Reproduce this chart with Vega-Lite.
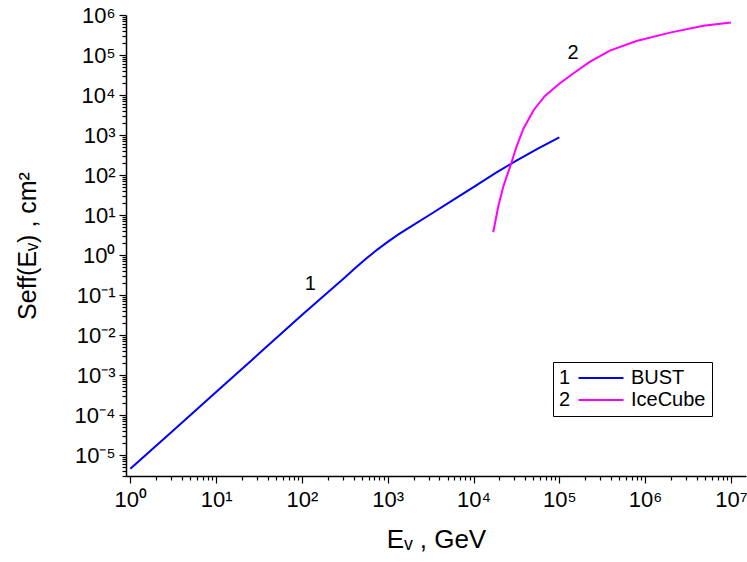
{
  "$schema": "https://vega.github.io/schema/vega-lite/v6.json",
  "width": 620,
  "height": 461,
  "autosize": "none",
  "padding": {"left": 126, "top": 15, "right": 1, "bottom": 86},
  "background": "white",
  "config": {
    "font": "Liberation Sans",
    "view": {"stroke": null}
  },
  "datasets": {
    "curves": [
      {"series": "BUST", "E": 1, "S": 4.54e-6},
      {"series": "BUST", "E": 3.162, "S": 4.14e-5},
      {"series": "BUST", "E": 10, "S": 3.78e-4},
      {"series": "BUST", "E": 31.62, "S": 3.44e-3},
      {"series": "BUST", "E": 100, "S": 0.0316},
      {"series": "BUST", "E": 316.2, "S": 0.275},
      {"series": "BUST", "E": 421.7, "S": 0.479},
      {"series": "BUST", "E": 562.3, "S": 0.815},
      {"series": "BUST", "E": 749.9, "S": 1.349},
      {"series": "BUST", "E": 1000, "S": 2.14},
      {"series": "BUST", "E": 1333.5, "S": 3.27},
      {"series": "BUST", "E": 1778, "S": 4.85},
      {"series": "BUST", "E": 3162, "S": 10.47},
      {"series": "BUST", "E": 5623, "S": 22.9},
      {"series": "BUST", "E": 10000, "S": 50.1},
      {"series": "BUST", "E": 17783, "S": 109.6},
      {"series": "BUST", "E": 31623, "S": 229},
      {"series": "BUST", "E": 56234, "S": 457},
      {"series": "BUST", "E": 100000, "S": 871},
      {"series": "IceCube", "E": 16982, "S": 3.72},
      {"series": "IceCube", "E": 19498, "S": 17.0},
      {"series": "IceCube", "E": 22387, "S": 53.7},
      {"series": "IceCube", "E": 26915, "S": 169.8},
      {"series": "IceCube", "E": 31623, "S": 501},
      {"series": "IceCube", "E": 38019, "S": 1413},
      {"series": "IceCube", "E": 50119, "S": 4169},
      {"series": "IceCube", "E": 67608, "S": 9333},
      {"series": "IceCube", "E": 100000, "S": 19055},
      {"series": "IceCube", "E": 141254, "S": 33113},
      {"series": "IceCube", "E": 223872, "S": 66069},
      {"series": "IceCube", "E": 389045, "S": 128825},
      {"series": "IceCube", "E": 794328, "S": 223872},
      {"series": "IceCube", "E": 1949845, "S": 363078},
      {"series": "IceCube", "E": 4786301, "S": 537032},
      {"series": "IceCube", "E": 10000000, "S": 645654}
    ],
    "labels": [
      {"label": "1", "E": 125, "S": 0.19},
      {"label": "2", "E": 145000, "S": 110000}
    ]
  },
  "layer": [
    {
      "data": {"name": "curves"},
      "mark": {"type": "line", "strokeWidth": 2, "clip": true},
      "encoding": {
        "x": {
          "field": "E", "type": "quantitative",
          "scale": {"type": "log", "domain": [0.89, 15000000], "nice": false},
          "axis": {
            "gridOpacity": 0,
            "domainColor": "black",
            "domainWidth": 1.5,
            "labelColor": "black",
            "titleColor": "black",
            "titleFontWeight": "normal",
            "labelOverlap": false,
            "ticks": true,
            "tickColor": "black",
            "tickWidth": 1.2,
            "values": [1,2,3,4,5,6,7,8,9,10,20,30,40,50,60,70,80,90,100,200,300,400,500,600,700,800,900,1000,2000,3000,4000,5000,6000,7000,8000,9000,10000,20000,30000,40000,50000,60000,70000,80000,90000,100000,200000,300000,400000,500000,600000,700000,800000,900000,1000000,2000000,3000000,4000000,5000000,6000000,7000000,8000000,9000000,10000000],
            "tickSize": {"condition": {"test": "abs(log(datum.value)/LN10 - round(log(datum.value)/LN10)) < 0.001", "value": 7}, "value": 4},
            "labelFontSize": 22,
            "labelPadding": 6,
            "labelExpr": "abs(log(datum.value)/LN10 - round(log(datum.value)/LN10)) < 0.001 ? '10' + ['⁻⁵','⁻⁴','⁻³','⁻²','⁻¹','⁰','¹','²','³','⁴','⁵','⁶','⁷'][round(log(datum.value)/LN10)+5] : ''",
            "title": "Eᵥ , GeV",
            "titleFontSize": 26,
            "titlePadding": 16
          }
        },
        "y": {
          "field": "S", "type": "quantitative",
          "scale": {"type": "log", "domain": [3e-6, 1000000], "nice": false},
          "axis": {
            "gridOpacity": 0,
            "domainColor": "black",
            "domainWidth": 1.5,
            "labelColor": "black",
            "titleColor": "black",
            "titleFontWeight": "normal",
            "labelOverlap": false,
            "ticks": true,
            "tickColor": "black",
            "tickWidth": 1.2,
            "values": [3e-6,4e-6,5e-6,6e-6,7e-6,8e-6,9e-6,1e-5,2e-5,3e-5,4e-5,5e-5,6e-5,7e-5,8e-5,9e-5,1e-4,2e-4,3e-4,4e-4,5e-4,6e-4,7e-4,8e-4,9e-4,0.001,0.002,0.003,0.004,0.005,0.006,0.007,0.008,0.009,0.01,0.02,0.03,0.04,0.05,0.06,0.07,0.08,0.09,0.1,0.2,0.3,0.4,0.5,0.6,0.7,0.8,0.9,1,2,3,4,5,6,7,8,9,10,20,30,40,50,60,70,80,90,100,200,300,400,500,600,700,800,900,1000,2000,3000,4000,5000,6000,7000,8000,9000,10000,20000,30000,40000,50000,60000,70000,80000,90000,100000,200000,300000,400000,500000,600000,700000,800000,900000,1000000],
            "tickSize": {"condition": {"test": "abs(log(datum.value)/LN10 - round(log(datum.value)/LN10)) < 0.001", "value": 7}, "value": 4},
            "labelFontSize": 22,
            "labelPadding": 4,
            "labelExpr": "abs(log(datum.value)/LN10 - round(log(datum.value)/LN10)) < 0.001 ? '10' + ['⁻⁵','⁻⁴','⁻³','⁻²','⁻¹','⁰','¹','²','³','⁴','⁵','⁶','⁷'][round(log(datum.value)/LN10)+5] : ''",
            "title": "Seff(Eᵥ) , cm²",
            "titleFontSize": 25,
            "titlePadding": 34
          }
        },
        "color": {
          "field": "series", "type": "nominal",
          "scale": {"domain": ["BUST", "IceCube"], "range": ["#0000ff", "#ff00ff"]},
          "legend": {
            "orient": "none",
            "legendX": 427,
            "legendY": 347,
            "title": ["\u00a01", "\u00a02"],
            "titleOrient": "left",
            "titleFontSize": 20,
            "titleFontWeight": "normal",
            "titleLineHeight": 22,
            "titleColor": "black",
            "titlePadding": 2.5,
            "labelFontSize": 20,
            "labelColor": "black",
            "labelExpr": "datum.label + '\u00a0\u00a0'",
            "symbolType": "M-4.5,0H4.5",
            "symbolSize": 100,
            "symbolStrokeWidth": 2,
            "symbolOffset": 17.5,
            "labelOffset": 20,
            "rowPadding": 2,
            "strokeColor": "black",
            "fillColor": "white",
            "padding": 6
          }
        }
      }
    },
    {
      "data": {"name": "labels"},
      "mark": {"type": "text", "fontSize": 20, "color": "black", "font": "Liberation Sans"},
      "encoding": {
        "x": {"field": "E", "type": "quantitative"},
        "y": {"field": "S", "type": "quantitative"},
        "text": {"field": "label", "type": "nominal"}
      }
    }
  ]
}
